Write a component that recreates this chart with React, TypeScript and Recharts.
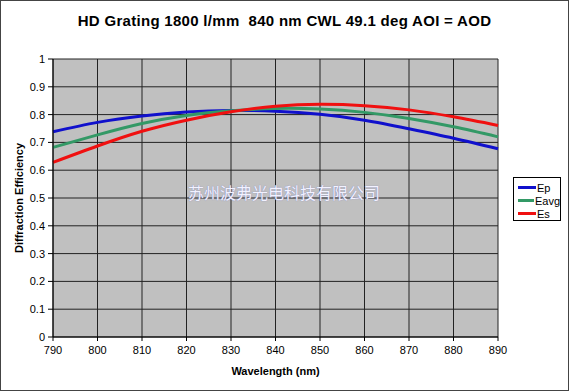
import { LineChart, Line, XAxis, YAxis, CartesianGrid, Label } from "recharts"

const wavelengths = [790, 800, 810, 820, 830, 840, 850, 860, 870, 880, 890]
const ep = [0.738, 0.772, 0.795, 0.809, 0.815, 0.812, 0.801, 0.78, 0.749, 0.715, 0.677]
const eavg = [0.682, 0.727, 0.768, 0.797, 0.814, 0.822, 0.82, 0.808, 0.786, 0.756, 0.72]
const es = [0.628, 0.687, 0.74, 0.78, 0.81, 0.83, 0.837, 0.832, 0.817, 0.792, 0.761]
const yTicks = [0, 0.1, 0.2, 0.3, 0.4, 0.5, 0.6, 0.7, 0.8, 0.9, 1]

const series = [
  { key: "Ep", values: ep, color: "#1010CC" },
  { key: "Eavg", values: eavg, color: "#339966" },
  { key: "Es", values: es, color: "#F01010" },
]

const data = wavelengths.map((w, i) => ({ w, Ep: ep[i], Eavg: eavg[i], Es: es[i] }))

const font = "Arial, 'Liberation Sans', sans-serif"

// legend drawn as plain html so it doesn't eat into the plot area
function LegendBox() {
  return (
    <div
      style={{
        position: "absolute",
        left: 513,
        top: 177,
        width: 48,
        height: 44,
        border: "1px solid #000",
        background: "#fff",
        padding: "3px 0 0 4px",
        boxSizing: "border-box",
        fontFamily: font,
        fontSize: 11,
      }}
    >
      {series.map((s) => (
        <div key={s.key} style={{ display: "flex", alignItems: "center", height: 13 }}>
          <span style={{ display: "inline-block", width: 18, height: 3, background: s.color }} />
          <span style={{ marginLeft: 1 }}>{s.key}</span>
        </div>
      ))}
    </div>
  )
}

export default function App() {
  return (
    <div style={{ position: "absolute", left: 0, top: 0, width: 569, height: 391, background: "#fff" }}>
      <LineChart
        width={569}
        height={391}
        data={data}
        margin={{ top: 59, right: 71, bottom: 0, left: 0 }}
      >
        <CartesianGrid stroke="#222" fill="#C0C0C0" fillOpacity={1} />
        <XAxis
          dataKey="w"
          type="number"
          domain={[790, 890]}
          ticks={wavelengths}
          interval={0}
          stroke="#000"
          tickSize={4}
          tickMargin={5}
          tick={{ fontSize: 11, fill: "#000", fontFamily: font }}
          height={54}
        >
          <Label
            value="Wavelength (nm)"
            position="insideTop"
            offset={30}
            style={{ fontSize: 11, fontWeight: "bold", fill: "#000", fontFamily: font }}
          />
        </XAxis>
        <YAxis
          domain={[0, 1]}
          ticks={yTicks}
          interval={0}
          width={53}
          stroke="#000"
          tickSize={5}
          tickMargin={3}
          tickFormatter={(v: number) => String(Math.round(v * 10) / 10)}
          tick={{ fontSize: 11, fill: "#000", fontFamily: font }}
        >
          <Label
            value="Diffraction Efficiency"
            angle={-90}
            position="insideLeft"
            offset={19}
            style={{ textAnchor: "middle", fontSize: 11, fontWeight: "bold", fill: "#000", fontFamily: font }}
          />
        </YAxis>
        {series.map((s) => (
          <Line
            key={s.key}
            dataKey={s.key}
            type="natural"
            stroke={s.color}
            strokeWidth={3}
            dot={false}
            isAnimationActive={false}
          />
        ))}
      </LineChart>
      <LegendBox />
      <div
        style={{
          position: "absolute",
          left: 0,
          top: 12,
          width: 569,
          textAlign: "center",
          fontFamily: font,
          fontWeight: "bold",
          fontSize: 15,
          letterSpacing: 0.3,
        }}
      >
        HD Grating 1800 l/mm&nbsp; 840 nm CWL 49.1 deg AOI = AOD
      </div>
      <div
        style={{
          position: "absolute",
          left: 184,
          top: 182,
          width: 200,
          textAlign: "center",
          fontFamily: "'Noto Sans CJK SC', sans-serif",
          fontSize: 16,
          lineHeight: "20px",
          color: "#F2F2FF",
          textShadow: "0 0 1px #7070B8",
        }}
      >
        苏州波弗光电科技有限公司
      </div>
      <div
        style={{
          position: "absolute",
          left: 0,
          top: 0,
          width: 567,
          height: 389,
          border: "1px solid #444",
          pointerEvents: "none",
        }}
      />
    </div>
  )
}
